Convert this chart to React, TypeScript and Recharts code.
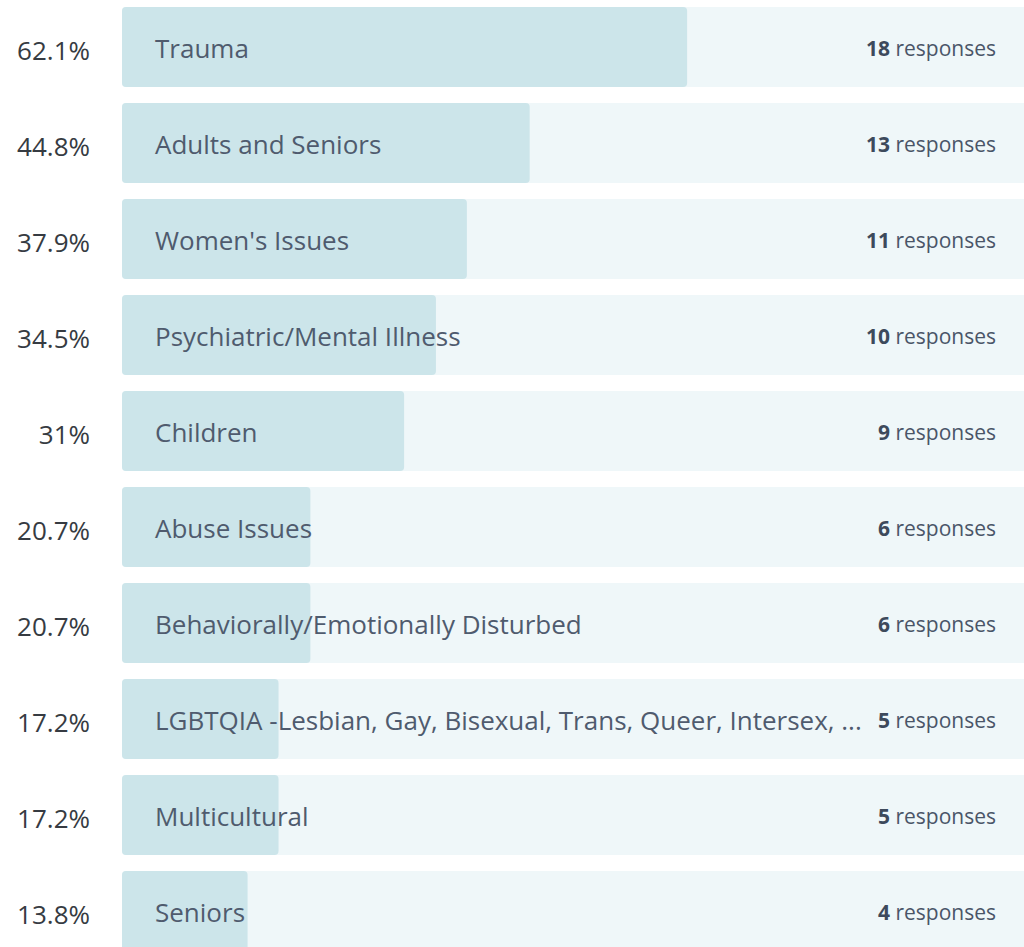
import React from 'react';
import { BarChart, Bar, XAxis, YAxis, LabelList } from 'recharts';

const categories = [
  'Trauma',
  'Adults and Seniors',
  "Women's Issues",
  'Psychiatric/Mental Illness',
  'Children',
  'Abuse Issues',
  'Behaviorally/Emotionally Disturbed',
  'LGBTQIA -Lesbian, Gay, Bisexual, Trans, Queer, Intersex, ...',
  'Multicultural',
  'Seniors',
];
const percents = [62.1, 44.8, 37.9, 34.5, 31, 20.7, 20.7, 17.2, 17.2, 13.8];
const percentLabels = ['62.1%', '44.8%', '37.9%', '34.5%', '31%', '20.7%', '20.7%', '17.2%', '17.2%', '13.8%'];
const responses = [18, 13, 11, 10, 9, 6, 6, 5, 5, 4];

const data = categories.map((name, i) => ({
  name,
  pct: percents[i],
  pctLabel: percentLabels[i],
  count: responses[i],
}));

const FONT = '"Open Sans", "Noto Sans", sans-serif';

const PercentTick = ({ x, y, index }: any) => (
  <text
    x={x}
    y={y}
    dy={3}
    textAnchor="end"
    dominantBaseline="central"
    fontFamily={FONT}
    fontSize={26}
    fill="#363b42"
  >
    {percentLabels[index]}
  </text>
);

const ResponsesTick = ({ x, y, index }: any) => (
  <text
    x={x}
    y={y}
    dy={1}
    textAnchor="end"
    dominantBaseline="central"
    fontFamily={FONT}
    fontSize={21}
    fill="#4a5568"
  >
    <tspan fontWeight={700} fill="#3d4a5c">{responses[index]}</tspan>
    <tspan> responses</tspan>
  </text>
);

const NameLabel = ({ x, y, height, value }: any) => (
  <text
    x={x + 33}
    y={y + height / 2}
    dy={1}
    textAnchor="start"
    dominantBaseline="central"
    fontFamily={FONT}
    fontSize={26}
    fill="#4f5b6e"
  >
    {value}
  </text>
);

export default function App() {
  return (
    <div
      style={{
        position: 'absolute',
        left: 0,
        top: 0,
        width: 1024,
        height: 947,
        overflow: 'hidden',
        background: '#fff',
      }}
    >
      <div style={{ position: 'absolute', left: 0, top: -1 }}>
        <BarChart
          width={1032}
          height={960}
          data={data}
          layout="vertical"
          margin={{ top: 0, right: 0, bottom: 0, left: 0 }}
          barCategoryGap={8}
        >
          <XAxis type="number" domain={[0, 100]} hide />
          <YAxis
            yAxisId="left"
            type="category"
            dataKey="name"
            width={122}
            axisLine={false}
            tickLine={false}
            tickMargin={26}
            tick={<PercentTick />}
            interval={0}
          />
          <YAxis
            yAxisId="right"
            orientation="right"
            mirror
            type="category"
            dataKey="name"
            width={60}
            axisLine={false}
            tickLine={false}
            tickMargin={30}
            tick={<ResponsesTick />}
            interval={0}
          />
          <Bar
            yAxisId="left"
            dataKey="pct"
            fill="#cce5ea"
            radius={4}
            background={{ fill: '#eff7f9', radius: 4 } as any}
            isAnimationActive={false}
          >
            <LabelList dataKey="name" content={<NameLabel />} />
          </Bar>
        </BarChart>
      </div>
    </div>
  );
}
